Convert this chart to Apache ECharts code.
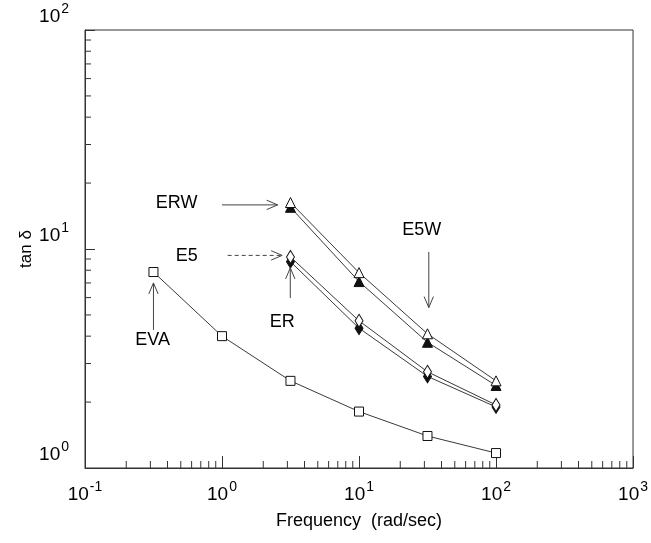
<!DOCTYPE html>
<html>
<head>
<meta charset="utf-8">
<script src="https://cdn.jsdelivr.net/npm/echarts@6/dist/echarts.min.js"></script>
<style>
    html, body { margin: 0; padding: 0; background: #fff; }
    #chart { width: 651px; height: 543px; }
</style>
</head>
<body>
<div id="chart"></div>
<script>
// frequencies (rad/sec)
const freqEVA = [0.316, 1, 3.16, 10, 31.6, 100];
const freqBlend = [3.16, 10, 31.6, 100];

// tan delta values
const tanEVA = [7.85, 4.0, 2.5, 1.81, 1.4, 1.17];
const tanERW = [16.3, 7.8, 4.1, 2.5];
const tanE5W = [15.5, 7.1, 3.75, 2.38];
const tanE5 = [9.2, 4.7, 2.75, 1.94];
const tanER = [8.75, 4.35, 2.62, 1.9];

// labels with arrows, all in data units
const annotations = [
    { label: 'ERW', text: [0.467, 16.2], from: [1.0, 15.9], to: [2.55, 15.9], dashed: false },
    { label: 'E5', text: [0.552, 9.3], from: [1.1, 9.35], to: [2.75, 9.35], dashed: true },
    { label: 'ER', text: [2.75, 4.64], from: [3.15, 5.97], to: [3.15, 8.2], dashed: false },
    { label: 'E5W', text: [28.7, 12.2], from: [32.3, 9.7], to: [32.3, 5.4], dashed: false },
    { label: 'EVA', text: [0.312, 3.84], from: [0.316, 4.27], to: [0.316, 7.0], dashed: false }
];

const xMinorTicks = [];
const yMinorTicks = [];
[0.1, 1, 10, 100].forEach(function (d) {
    for (let k = 2; k <= 9; k++) xMinorTicks.push(d * k);
});
[1, 10].forEach(function (d) {
    for (let k = 2; k <= 9; k++) yMinorTicks.push(d * k);
});

const FONT = '"Liberation Sans", Arial, sans-serif';
const INK = '#000';

function pairs(xs, ys) {
    return xs.map(function (x, i) { return [x, ys[i]]; });
}

function powLabel(v) {
    const e = Math.round(Math.log10(v));
    return '{b|10}{s|' + e + '}';
}

const powRich = {
    b: { fontSize: 19, fontFamily: FONT, color: INK, verticalAlign: 'bottom' },
    s: { fontSize: 14, fontFamily: FONT, color: INK, verticalAlign: 'bottom', padding: [0, 0, 10, 1] }
};

function lineSeries(name, xs, ys, symbol, size, filled) {
    return {
        name: name,
        type: 'line',
        data: pairs(xs, ys),
        symbol: symbol,
        symbolSize: size,
        showSymbol: true,
        lineStyle: { color: '#3a3a3a', width: 1 },
        itemStyle: {
            color: filled ? '#111' : '#fff',
            borderColor: '#111',
            borderWidth: 1
        },
        z: filled ? 3 : 4
    };
}

function renderMinorX(params, api) {
    const p = api.coord([api.value(0), 1]);
    return {
        type: 'line',
        shape: { x1: p[0], y1: p[1], x2: p[0], y2: p[1] - 7 },
        style: { stroke: '#333', lineWidth: 1 }
    };
}

function renderMinorY(params, api) {
    const p = api.coord([0.1, api.value(1)]);
    return {
        type: 'line',
        shape: { x1: p[0], y1: p[1], x2: p[0] + 6, y2: p[1] },
        style: { stroke: '#333', lineWidth: 1 }
    };
}

function renderNote(params, api) {
    const a = annotations[params.dataIndex];
    const t = api.coord(a.text);
    const f = api.coord(a.from);
    const e = api.coord(a.to);
    const ang = Math.atan2(e[1] - f[1], e[0] - f[0]);
    const len = 12, spread = 0.4;
    const h1 = [e[0] - len * Math.cos(ang - spread), e[1] - len * Math.sin(ang - spread)];
    const h2 = [e[0] - len * Math.cos(ang + spread), e[1] - len * Math.sin(ang + spread)];
    const stroke = { stroke: '#444', lineWidth: 1, lineDash: a.dashed ? [4, 3] : null };
    return {
        type: 'group',
        children: [
            {
                type: 'text',
                x: t[0], y: t[1],
                style: {
                    text: a.label, fill: INK, fontSize: 18, fontFamily: FONT,
                    align: 'center', verticalAlign: 'middle'
                }
            },
            { type: 'line', shape: { x1: f[0], y1: f[1], x2: e[0], y2: e[1] }, style: stroke },
            { type: 'line', shape: { x1: h1[0], y1: h1[1], x2: e[0], y2: e[1] }, style: { stroke: '#444', lineWidth: 1 } },
            { type: 'line', shape: { x1: h2[0], y1: h2[1], x2: e[0], y2: e[1] }, style: { stroke: '#444', lineWidth: 1 } }
        ]
    };
}

const chart = echarts.init(document.getElementById('chart'), null, { renderer: 'canvas' });

chart.setOption({
    animation: false,
    backgroundColor: '#fff',
    grid: {
        left: 85, right: 16, top: 30, bottom: 75,
        show: true, borderColor: '#333', borderWidth: 1, backgroundColor: 'transparent'
    },
    xAxis: {
        type: 'log',
        logBase: 10,
        min: 0.1,
        max: 1000,
        name: 'Frequency  (rad/sec)',
        nameLocation: 'middle',
        nameGap: 44,
        nameTextStyle: { fontSize: 18, fontFamily: FONT, color: INK },
        axisLine: { lineStyle: { color: '#333', width: 1 } },
        axisTick: { inside: true, length: 12, lineStyle: { color: '#333' } },
        axisLabel: { formatter: powLabel, rich: powRich, margin: 12 },
        splitLine: { show: false }
    },
    yAxis: {
        type: 'log',
        logBase: 10,
        min: 1,
        max: 100,
        name: 'tan δ',
        nameLocation: 'middle',
        nameRotate: 90,
        nameGap: 50,
        nameMoveOverlap: false,
        nameTextStyle: { fontSize: 17, fontFamily: FONT, color: INK },
        axisLine: { lineStyle: { color: '#333', width: 1 } },
        axisTick: { inside: true, length: 10, lineStyle: { color: '#333' } },
        axisLabel: { formatter: powLabel, rich: powRich, margin: 16, verticalAlign: 'bottom', padding: [0, 0, 4, 0] },
        splitLine: { show: false }
    },
    series: [
        lineSeries('EVA', freqEVA, tanEVA, 'rect', 9, false),
        lineSeries('ERW', freqBlend, tanERW, 'triangle', 10, false),
        lineSeries('E5W', freqBlend, tanE5W, 'triangle', 10, true),
        lineSeries('E5', freqBlend, tanE5, 'diamond', [8, 13], false),
        lineSeries('ER', freqBlend, tanER, 'diamond', [8, 13], true),
        {
            type: 'custom',
            data: xMinorTicks.map(function (v) { return [v, 1]; }),
            renderItem: renderMinorX,
            silent: true,
            z: 1
        },
        {
            type: 'custom',
            data: yMinorTicks.map(function (v) { return [0.1, v]; }),
            renderItem: renderMinorY,
            silent: true,
            z: 1
        },
        {
            type: 'custom',
            data: annotations.map(function (a) { return a.text; }),
            renderItem: renderNote,
            clip: false,
            silent: true,
            z: 5
        }
    ]
});
</script>
</body>
</html>
